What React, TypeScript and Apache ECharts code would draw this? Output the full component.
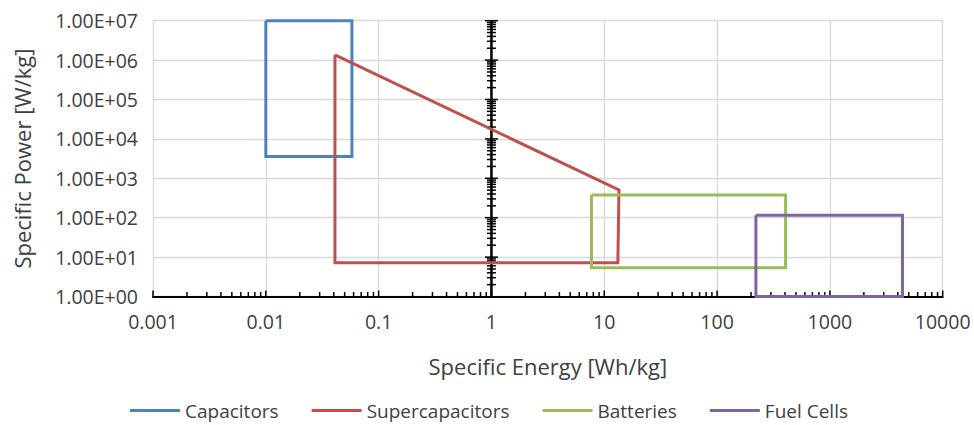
import React, { useEffect, useRef } from "react";
import * as echarts from "echarts";

// ---- data ----
const seriesNames = ["Capacitors", "Supercapacitors", "Batteries", "Fuel Cells"];
const seriesColors = ["#4F81BD", "#C0504D", "#9BBB59", "#8064A2"];

const capacitorsX = [0.01, 0.01, 0.058, 0.058, 0.01];
const capacitorsY = [1e7, 3600, 3600, 1e7, 1e7];

const supercapacitorsX = [0.041, 13.5, 13.2, 0.041, 0.041];
const supercapacitorsY = [1.35e6, 505, 7.2, 7.2, 1.35e6];

const batteriesX = [7.7, 405, 405, 7.7, 7.7];
const batteriesY = [377, 377, 5.4, 5.4, 377];

const fuelCellsX = [221, 4400, 4400, 221, 221];
const fuelCellsY = [115, 115, 1, 1, 115];

const xTickLabels = ["0.001", "0.01", "0.1", "1", "10", "100", "1000", "10000"];
const yTickLabels = [
  "1.00E+00",
  "1.00E+01",
  "1.00E+02",
  "1.00E+03",
  "1.00E+04",
  "1.00E+05",
  "1.00E+06",
  "1.00E+07",
];
const xDecades = [0.001, 0.01, 0.1, 1, 10, 100, 1000, 10000];
const yDecades = [1, 10, 100, 1000, 1e4, 1e5, 1e6, 1e7];
const minorMultipliers = [2, 3, 4, 5, 6, 7, 8, 9];

const xMin = 0.001;
const xMax = 10000;
const yMin = 1;
const yMax = 1e7;
const yAxisCrossX = 1;

const FONT = "'Open Sans', 'Noto Sans', sans-serif";
const TEXT = "#404040";

function pairs(xs: number[], ys: number[]) {
  return xs.map((x, i) => [x, ys[i]]);
}

export default function App() {
  const ref = useRef<HTMLDivElement>(null);

  useEffect(() => {
    if (!ref.current) return;
    const chart = echarts.init(ref.current, undefined, { renderer: "svg" });

    // decoration items: [x, y, kind, len]
    // kind 0: x-axis tick (upwards), kind 1: y-axis tick (crossing), kind 2: y-axis line at x = 1
    const deco: number[][] = [];
    xDecades.forEach((d, i) => {
      deco.push([d, yMin, 0, 6]);
      if (i < xDecades.length - 1) minorMultipliers.forEach((m) => deco.push([d * m, yMin, 0, 4.5]));
    });
    yDecades.forEach((d, i) => {
      if (i > 0) deco.push([yAxisCrossX, d, 1, 6.5]);
      if (i < yDecades.length - 1) minorMultipliers.forEach((m) => deco.push([yAxisCrossX, d * m, 1, 4.5]));
    });
    deco.push([yAxisCrossX, yMin, 2, 0]);

    const dataSets = [
      pairs(capacitorsX, capacitorsY),
      pairs(supercapacitorsX, supercapacitorsY),
      pairs(batteriesX, batteriesY),
      pairs(fuelCellsX, fuelCellsY),
    ];

    chart.setOption({
      animation: false,
      textStyle: { fontFamily: FONT },
      grid: {
        left: 153,
        right: 31.3,
        top: 20.7,
        bottom: 128.5,
        containLabel: false,
        outerBoundsMode: "none",
      },
      legend: {
        data: seriesNames,
        left: 125,
        top: 396,
        icon: "rect",
        itemWidth: 50,
        itemHeight: 3,
        itemGap: 33,
        textStyle: { fontSize: 19, color: TEXT, fontFamily: FONT },
      },
      xAxis: {
        type: "log",
        logBase: 10,
        min: xMin,
        max: xMax,
        splitNumber: 7,
        name: "Specific Energy [Wh/kg]",
        nameLocation: "middle",
        nameGap: 58,
        nameTextStyle: { fontSize: 22, color: TEXT, fontFamily: FONT },
        axisLine: { show: true, lineStyle: { color: "#000", width: 2 } },
        axisTick: { show: false },
        axisLabel: {
          margin: 15,
          fontSize: 19.5,
          color: TEXT,
          fontFamily: FONT,
          showMinLabel: true,
          showMaxLabel: true,
          formatter: (v: number) => xTickLabels[Math.round(Math.log10(v)) + 3],
        },
        splitLine: { show: true, lineStyle: { color: "#d9d9d9", width: 1.3 } },
      },
      yAxis: {
        type: "log",
        logBase: 10,
        min: yMin,
        max: yMax,
        splitNumber: 7,
        name: "Specific Power [W/kg]",
        nameLocation: "middle",
        nameGap: 120,
        nameTextStyle: { fontSize: 22, color: TEXT, fontFamily: FONT },
        axisLine: { show: false },
        axisTick: { show: false },
        axisLabel: {
          margin: 15,
          fontSize: 19.5,
          color: TEXT,
          fontFamily: FONT,
          showMinLabel: true,
          showMaxLabel: true,
          formatter: (v: number) => yTickLabels[Math.round(Math.log10(v))],
        },
        splitLine: { show: true, lineStyle: { color: "#d9d9d9", width: 1.3 } },
      },
      series: [
        {
          type: "custom",
          name: "axis-decoration",
          coordinateSystem: "cartesian2d",
          silent: true,
          clip: false,
          z: 1,
          data: deco,
          renderItem: (_params: any, api: any) => {
            const x = api.value(0);
            const y = api.value(1);
            const kind = api.value(2);
            const len = api.value(3);
            const p = api.coord([x, y]);
            if (kind === 0) {
              return {
                type: "line",
                shape: { x1: p[0], y1: p[1], x2: p[0], y2: p[1] - len },
                style: { stroke: "#000", lineWidth: 1.5 },
              };
            }
            if (kind === 1) {
              return {
                type: "line",
                shape: { x1: p[0] - len, y1: p[1], x2: p[0] + len, y2: p[1] },
                style: { stroke: "#000", lineWidth: 1.5 },
              };
            }
            const top = api.coord([x, yMax]);
            return {
              type: "line",
              shape: { x1: p[0], y1: p[1], x2: top[0], y2: top[1] },
              style: { stroke: "#000", lineWidth: 2.5 },
            };
          },
        },
        ...seriesNames.map((name, i) => ({
          type: "line",
          name,
          data: dataSets[i],
          symbol: "none",
          showSymbol: false,
          clip: false,
          z: 3,
          color: seriesColors[i],
          itemStyle: { color: seriesColors[i] },
          lineStyle: { color: seriesColors[i], width: 3, join: "miter", cap: "butt" },
        })),
      ],
    });

    return () => {
      chart.dispose();
    };
  }, []);

  return (
    <div
      ref={ref}
      style={{ position: "fixed", left: 0, top: 0, width: 974, height: 425, background: "#fff" }}
    />
  );
}
